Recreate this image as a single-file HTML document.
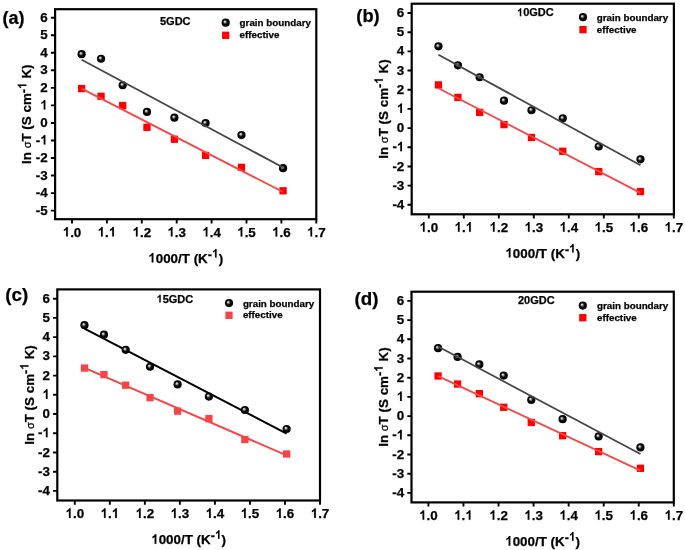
<!DOCTYPE html>
<html><head><meta charset="utf-8"><style>
html,body{margin:0;padding:0;background:#fff;}
svg{display:block;}
#w{width:685px;height:550px;will-change:transform;}
text{font-family:"Liberation Sans", sans-serif;font-weight:bold;fill:#000;stroke:#000;stroke-width:0.25px;}
.tk{font-size:13.4px;}
.ax{font-size:13.4px;}
.sup{font-size:12px;}
.sig{font-weight:normal;font-size:11px;}
.pl{font-size:18px;}
.tt{font-size:11px;}
.lg{font-size:9.8px;}
.o1{fill-opacity:0;stroke-opacity:0;}
.hy{font-size:12.5px;}
</style></head><body><div id="w">
<svg width="685" height="550" viewBox="0 0 685 550">
<defs>
<radialGradient id="sph" cx="0.5" cy="0.5" r="0.5" fx="0.37" fy="0.36">
<stop offset="0" stop-color="#e6e6e6"/>
<stop offset="0.14" stop-color="#d2d2d2"/>
<stop offset="0.34" stop-color="#5a5a5a"/>
<stop offset="0.52" stop-color="#0c0c0c"/>
<stop offset="1" stop-color="#000"/>
</radialGradient>
</defs>
<rect width="685" height="550" fill="#fff"/>
<rect x="55.10" y="9.20" width="261.20" height="210.00" fill="none" stroke="#000" stroke-width="2.2"/>
<path d="M50.90 17.70H55.10 M50.90 35.24H55.10 M50.90 52.78H55.10 M50.90 70.32H55.10 M50.90 87.86H55.10 M50.90 105.40H55.10 M50.90 122.94H55.10 M50.90 140.48H55.10 M50.90 158.02H55.10 M50.90 175.56H55.10 M50.90 193.10H55.10 M50.90 210.64H55.10 M72.00 219.20V223.40 M106.90 219.20V223.40 M141.80 219.20V223.40 M176.70 219.20V223.40 M211.60 219.20V223.40 M246.50 219.20V223.40 M281.40 219.20V223.40 M316.30 219.20V223.40" stroke="#000" stroke-width="1.9" fill="none"/>
<text x="47.70" y="21.80" class="tk" text-anchor="end">6</text>
<text x="47.70" y="39.34" class="tk" text-anchor="end">5</text>
<text x="47.70" y="56.88" class="tk" text-anchor="end">4</text>
<text x="47.70" y="74.42" class="tk" text-anchor="end">3</text>
<text x="47.70" y="91.96" class="tk" text-anchor="end">2</text>
<text x="47.70" y="109.50" class="tk" text-anchor="end"><tspan class="o1">1</tspan></text>
<text x="47.70" y="127.04" class="tk" text-anchor="end">0</text>
<text x="47.70" y="144.58" class="tk" text-anchor="end">-<tspan class="o1">1</tspan></text>
<text x="47.70" y="162.12" class="tk" text-anchor="end">-2</text>
<text x="47.70" y="179.66" class="tk" text-anchor="end">-3</text>
<text x="47.70" y="197.20" class="tk" text-anchor="end">-4</text>
<text x="47.70" y="214.74" class="tk" text-anchor="end">-5</text>
<text x="72.00" y="236.60" class="tk" text-anchor="middle"><tspan class="o1">1</tspan>.0</text>
<text x="106.90" y="236.60" class="tk" text-anchor="middle"><tspan class="o1">1</tspan>.<tspan class="o1">1</tspan></text>
<text x="141.80" y="236.60" class="tk" text-anchor="middle"><tspan class="o1">1</tspan>.2</text>
<text x="176.70" y="236.60" class="tk" text-anchor="middle"><tspan class="o1">1</tspan>.3</text>
<text x="211.60" y="236.60" class="tk" text-anchor="middle"><tspan class="o1">1</tspan>.4</text>
<text x="246.50" y="236.60" class="tk" text-anchor="middle"><tspan class="o1">1</tspan>.5</text>
<text x="281.40" y="236.60" class="tk" text-anchor="middle"><tspan class="o1">1</tspan>.6</text>
<text x="316.30" y="236.60" class="tk" text-anchor="middle"><tspan class="o1">1</tspan>.7</text>
<text x="185.70" y="262.50" class="ax" text-anchor="middle"><tspan class="o1">1</tspan>000/T (K<tspan class="sup"><tspan class="hy" dy="-3.5">-</tspan><tspan dy="-1.5"><tspan class="o1">1</tspan></tspan></tspan><tspan dy="5">)</tspan></text>
<text transform="translate(31.30 114.20) rotate(-90)" class="ax" text-anchor="middle">ln <tspan class="sig">σ</tspan>T (S cm<tspan class="sup"><tspan class="hy" dy="-3.5">-</tspan><tspan dy="-1.5"><tspan class="o1">1</tspan></tspan></tspan><tspan dy="5"> K)</tspan></text>
<text x="2.60" y="24.20" class="pl" style="font-size:18px">(a)</text>
<text x="160.00" y="25.10" class="tt">5GDC</text>
<circle cx="225.70" cy="22.65" r="4.10" fill="url(#sph)"/>
<rect x="222.05" y="31.65" width="7.30" height="7.30" fill="#ff0000"/>
<text x="239.60" y="25.90" class="lg">grain boundary</text>
<text x="239.60" y="38.40" class="lg">effective</text>
<rect x="77.98" y="84.91" width="7.30" height="7.30" fill="#ff0000"/>
<rect x="97.40" y="92.63" width="7.30" height="7.30" fill="#ff0000"/>
<rect x="119.05" y="101.93" width="7.30" height="7.30" fill="#ff0000"/>
<rect x="143.33" y="123.67" width="7.30" height="7.30" fill="#ff0000"/>
<rect x="170.75" y="135.60" width="7.30" height="7.30" fill="#ff0000"/>
<rect x="201.96" y="151.74" width="7.30" height="7.30" fill="#ff0000"/>
<rect x="237.81" y="163.67" width="7.30" height="7.30" fill="#ff0000"/>
<rect x="279.41" y="187.17" width="7.30" height="7.30" fill="#ff0000"/>
<circle cx="81.63" cy="54.18" r="4.10" fill="url(#sph)"/>
<circle cx="101.05" cy="58.74" r="4.10" fill="url(#sph)"/>
<circle cx="122.70" cy="85.23" r="4.10" fill="url(#sph)"/>
<circle cx="146.98" cy="111.89" r="4.10" fill="url(#sph)"/>
<circle cx="174.40" cy="117.68" r="4.10" fill="url(#sph)"/>
<circle cx="205.61" cy="123.12" r="4.10" fill="url(#sph)"/>
<circle cx="241.46" cy="135.04" r="4.10" fill="url(#sph)"/>
<circle cx="283.06" cy="168.19" r="4.10" fill="url(#sph)"/>
<line x1="81.63" y1="59.70" x2="283.06" y2="167.43" stroke="#464646" stroke-width="1.8"/>
<line x1="81.63" y1="88.67" x2="283.06" y2="192.02" stroke="#f84646" stroke-width="1.8"/>
<rect x="411.70" y="3.70" width="262.20" height="210.60" fill="none" stroke="#000" stroke-width="2.2"/>
<path d="M407.50 13.00H411.70 M407.50 32.18H411.70 M407.50 51.36H411.70 M407.50 70.54H411.70 M407.50 89.72H411.70 M407.50 108.90H411.70 M407.50 128.08H411.70 M407.50 147.26H411.70 M407.50 166.44H411.70 M407.50 185.62H411.70 M407.50 204.80H411.70 M428.80 214.30V218.50 M463.80 214.30V218.50 M498.80 214.30V218.50 M533.80 214.30V218.50 M568.80 214.30V218.50 M603.80 214.30V218.50 M638.80 214.30V218.50 M673.80 214.30V218.50" stroke="#000" stroke-width="1.9" fill="none"/>
<text x="404.30" y="17.10" class="tk" text-anchor="end">6</text>
<text x="404.30" y="36.28" class="tk" text-anchor="end">5</text>
<text x="404.30" y="55.46" class="tk" text-anchor="end">4</text>
<text x="404.30" y="74.64" class="tk" text-anchor="end">3</text>
<text x="404.30" y="93.82" class="tk" text-anchor="end">2</text>
<text x="404.30" y="113.00" class="tk" text-anchor="end"><tspan class="o1">1</tspan></text>
<text x="404.30" y="132.18" class="tk" text-anchor="end">0</text>
<text x="404.30" y="151.36" class="tk" text-anchor="end">-<tspan class="o1">1</tspan></text>
<text x="404.30" y="170.54" class="tk" text-anchor="end">-2</text>
<text x="404.30" y="189.72" class="tk" text-anchor="end">-3</text>
<text x="404.30" y="208.90" class="tk" text-anchor="end">-4</text>
<text x="428.80" y="231.70" class="tk" text-anchor="middle"><tspan class="o1">1</tspan>.0</text>
<text x="463.80" y="231.70" class="tk" text-anchor="middle"><tspan class="o1">1</tspan>.<tspan class="o1">1</tspan></text>
<text x="498.80" y="231.70" class="tk" text-anchor="middle"><tspan class="o1">1</tspan>.2</text>
<text x="533.80" y="231.70" class="tk" text-anchor="middle"><tspan class="o1">1</tspan>.3</text>
<text x="568.80" y="231.70" class="tk" text-anchor="middle"><tspan class="o1">1</tspan>.4</text>
<text x="603.80" y="231.70" class="tk" text-anchor="middle"><tspan class="o1">1</tspan>.5</text>
<text x="638.80" y="231.70" class="tk" text-anchor="middle"><tspan class="o1">1</tspan>.6</text>
<text x="673.80" y="231.70" class="tk" text-anchor="middle"><tspan class="o1">1</tspan>.7</text>
<text x="542.80" y="257.60" class="ax" text-anchor="middle"><tspan class="o1">1</tspan>000/T (K<tspan class="sup"><tspan class="hy" dy="-3.5">-</tspan><tspan dy="-1.5"><tspan class="o1">1</tspan></tspan></tspan><tspan dy="5">)</tspan></text>
<text transform="translate(387.90 109.00) rotate(-90)" class="ax" text-anchor="middle">ln <tspan class="sig">σ</tspan>T (S cm<tspan class="sup"><tspan class="hy" dy="-3.5">-</tspan><tspan dy="-1.5"><tspan class="o1">1</tspan></tspan></tspan><tspan dy="5"> K)</tspan></text>
<text x="356.30" y="21.80" class="pl" style="font-size:18.3px">(b)</text>
<text x="517.00" y="16.20" class="tt"><tspan class="o1">1</tspan>0GDC</text>
<circle cx="583.00" cy="17.15" r="4.10" fill="url(#sph)"/>
<rect x="579.35" y="26.00" width="7.30" height="7.30" fill="#ff0000"/>
<text x="596.80" y="20.50" class="lg">grain boundary</text>
<text x="596.80" y="33.00" class="lg">effective</text>
<rect x="434.81" y="81.27" width="7.30" height="7.30" fill="#ff0000"/>
<rect x="454.29" y="93.74" width="7.30" height="7.30" fill="#ff0000"/>
<rect x="476.00" y="108.70" width="7.30" height="7.30" fill="#ff0000"/>
<rect x="500.35" y="120.98" width="7.30" height="7.30" fill="#ff0000"/>
<rect x="527.84" y="133.83" width="7.30" height="7.30" fill="#ff0000"/>
<rect x="559.14" y="147.64" width="7.30" height="7.30" fill="#ff0000"/>
<rect x="595.09" y="167.97" width="7.30" height="7.30" fill="#ff0000"/>
<rect x="636.81" y="187.92" width="7.30" height="7.30" fill="#ff0000"/>
<circle cx="438.46" cy="46.37" r="4.10" fill="url(#sph)"/>
<circle cx="457.94" cy="65.36" r="4.10" fill="url(#sph)"/>
<circle cx="479.65" cy="77.25" r="4.10" fill="url(#sph)"/>
<circle cx="504.00" cy="100.65" r="4.10" fill="url(#sph)"/>
<circle cx="531.49" cy="110.24" r="4.10" fill="url(#sph)"/>
<circle cx="562.79" cy="118.30" r="4.10" fill="url(#sph)"/>
<circle cx="598.74" cy="146.49" r="4.10" fill="url(#sph)"/>
<circle cx="640.46" cy="159.34" r="4.10" fill="url(#sph)"/>
<line x1="438.46" y1="54.74" x2="640.46" y2="165.23" stroke="#464646" stroke-width="1.8"/>
<line x1="438.46" y1="88.19" x2="640.46" y2="192.85" stroke="#f84646" stroke-width="1.8"/>
<rect x="57.30" y="289.40" width="262.70" height="211.10" fill="none" stroke="#000" stroke-width="2.2"/>
<path d="M53.10 298.70H57.30 M53.10 317.92H57.30 M53.10 337.14H57.30 M53.10 356.36H57.30 M53.10 375.58H57.30 M53.10 394.80H57.30 M53.10 414.02H57.30 M53.10 433.24H57.30 M53.10 452.46H57.30 M53.10 471.68H57.30 M53.10 490.90H57.30 M74.80 500.50V504.70 M109.83 500.50V504.70 M144.86 500.50V504.70 M179.89 500.50V504.70 M214.92 500.50V504.70 M249.95 500.50V504.70 M284.98 500.50V504.70 M320.01 500.50V504.70" stroke="#000" stroke-width="1.9" fill="none"/>
<text x="49.90" y="302.80" class="tk" text-anchor="end">6</text>
<text x="49.90" y="322.02" class="tk" text-anchor="end">5</text>
<text x="49.90" y="341.24" class="tk" text-anchor="end">4</text>
<text x="49.90" y="360.46" class="tk" text-anchor="end">3</text>
<text x="49.90" y="379.68" class="tk" text-anchor="end">2</text>
<text x="49.90" y="398.90" class="tk" text-anchor="end"><tspan class="o1">1</tspan></text>
<text x="49.90" y="418.12" class="tk" text-anchor="end">0</text>
<text x="49.90" y="437.34" class="tk" text-anchor="end">-<tspan class="o1">1</tspan></text>
<text x="49.90" y="456.56" class="tk" text-anchor="end">-2</text>
<text x="49.90" y="475.78" class="tk" text-anchor="end">-3</text>
<text x="49.90" y="495.00" class="tk" text-anchor="end">-4</text>
<text x="74.80" y="517.90" class="tk" text-anchor="middle"><tspan class="o1">1</tspan>.0</text>
<text x="109.83" y="517.90" class="tk" text-anchor="middle"><tspan class="o1">1</tspan>.<tspan class="o1">1</tspan></text>
<text x="144.86" y="517.90" class="tk" text-anchor="middle"><tspan class="o1">1</tspan>.2</text>
<text x="179.89" y="517.90" class="tk" text-anchor="middle"><tspan class="o1">1</tspan>.3</text>
<text x="214.92" y="517.90" class="tk" text-anchor="middle"><tspan class="o1">1</tspan>.4</text>
<text x="249.95" y="517.90" class="tk" text-anchor="middle"><tspan class="o1">1</tspan>.5</text>
<text x="284.98" y="517.90" class="tk" text-anchor="middle"><tspan class="o1">1</tspan>.6</text>
<text x="320.01" y="517.90" class="tk" text-anchor="middle"><tspan class="o1">1</tspan>.7</text>
<text x="188.65" y="543.80" class="ax" text-anchor="middle"><tspan class="o1">1</tspan>000/T (K<tspan class="sup"><tspan class="hy" dy="-3.5">-</tspan><tspan dy="-1.5"><tspan class="o1">1</tspan></tspan></tspan><tspan dy="5">)</tspan></text>
<text transform="translate(33.50 394.95) rotate(-90)" class="ax" text-anchor="middle">ln <tspan class="sig">σ</tspan>T (S cm<tspan class="sup"><tspan class="hy" dy="-3.5">-</tspan><tspan dy="-1.5"><tspan class="o1">1</tspan></tspan></tspan><tspan dy="5"> K)</tspan></text>
<text x="5.30" y="301.40" class="pl" style="font-size:18.8px">(c)</text>
<text x="156.50" y="302.50" class="tt"><tspan class="o1">1</tspan>5GDC</text>
<circle cx="229.00" cy="303.10" r="4.10" fill="url(#sph)"/>
<rect x="225.35" y="311.65" width="7.30" height="7.30" fill="#f84444"/>
<text x="242.90" y="306.50" class="lg">grain boundary</text>
<text x="242.90" y="318.40" class="lg">effective</text>
<line x1="84.47" y1="328.71" x2="286.64" y2="433.65" stroke="#000000" stroke-width="2.0"/>
<line x1="84.47" y1="367.90" x2="286.64" y2="455.40" stroke="#f84444" stroke-width="2.0"/>
<rect x="80.82" y="364.43" width="7.30" height="7.30" fill="#f84444"/>
<rect x="100.31" y="370.97" width="7.30" height="7.30" fill="#f84444"/>
<rect x="122.04" y="381.54" width="7.30" height="7.30" fill="#f84444"/>
<rect x="146.41" y="394.03" width="7.30" height="7.30" fill="#f84444"/>
<rect x="173.93" y="407.49" width="7.30" height="7.30" fill="#f84444"/>
<rect x="205.26" y="414.98" width="7.30" height="7.30" fill="#f84444"/>
<rect x="241.24" y="435.93" width="7.30" height="7.30" fill="#f84444"/>
<rect x="282.99" y="450.35" width="7.30" height="7.30" fill="#f84444"/>
<circle cx="84.47" cy="325.22" r="4.10" fill="url(#sph)"/>
<circle cx="103.96" cy="334.64" r="4.10" fill="url(#sph)"/>
<circle cx="125.69" cy="349.83" r="4.10" fill="url(#sph)"/>
<circle cx="150.06" cy="366.74" r="4.10" fill="url(#sph)"/>
<circle cx="177.58" cy="384.42" r="4.10" fill="url(#sph)"/>
<circle cx="208.91" cy="396.53" r="4.10" fill="url(#sph)"/>
<circle cx="244.89" cy="409.98" r="4.10" fill="url(#sph)"/>
<circle cx="286.64" cy="429.01" r="4.10" fill="url(#sph)"/>
<rect x="411.50" y="291.70" width="262.30" height="210.70" fill="none" stroke="#000" stroke-width="2.2"/>
<path d="M407.30 300.90H411.50 M407.30 320.10H411.50 M407.30 339.30H411.50 M407.30 358.50H411.50 M407.30 377.70H411.50 M407.30 396.90H411.50 M407.30 416.10H411.50 M407.30 435.30H411.50 M407.30 454.50H411.50 M407.30 473.70H411.50 M407.30 492.90H411.50 M428.40 502.40V506.60 M463.46 502.40V506.60 M498.52 502.40V506.60 M533.58 502.40V506.60 M568.64 502.40V506.60 M603.70 502.40V506.60 M638.76 502.40V506.60 M673.82 502.40V506.60" stroke="#000" stroke-width="1.9" fill="none"/>
<text x="404.10" y="305.00" class="tk" text-anchor="end">6</text>
<text x="404.10" y="324.20" class="tk" text-anchor="end">5</text>
<text x="404.10" y="343.40" class="tk" text-anchor="end">4</text>
<text x="404.10" y="362.60" class="tk" text-anchor="end">3</text>
<text x="404.10" y="381.80" class="tk" text-anchor="end">2</text>
<text x="404.10" y="401.00" class="tk" text-anchor="end"><tspan class="o1">1</tspan></text>
<text x="404.10" y="420.20" class="tk" text-anchor="end">0</text>
<text x="404.10" y="439.40" class="tk" text-anchor="end">-<tspan class="o1">1</tspan></text>
<text x="404.10" y="458.60" class="tk" text-anchor="end">-2</text>
<text x="404.10" y="477.80" class="tk" text-anchor="end">-3</text>
<text x="404.10" y="497.00" class="tk" text-anchor="end">-4</text>
<text x="428.40" y="519.80" class="tk" text-anchor="middle"><tspan class="o1">1</tspan>.0</text>
<text x="463.46" y="519.80" class="tk" text-anchor="middle"><tspan class="o1">1</tspan>.<tspan class="o1">1</tspan></text>
<text x="498.52" y="519.80" class="tk" text-anchor="middle"><tspan class="o1">1</tspan>.2</text>
<text x="533.58" y="519.80" class="tk" text-anchor="middle"><tspan class="o1">1</tspan>.3</text>
<text x="568.64" y="519.80" class="tk" text-anchor="middle"><tspan class="o1">1</tspan>.4</text>
<text x="603.70" y="519.80" class="tk" text-anchor="middle"><tspan class="o1">1</tspan>.5</text>
<text x="638.76" y="519.80" class="tk" text-anchor="middle"><tspan class="o1">1</tspan>.6</text>
<text x="673.82" y="519.80" class="tk" text-anchor="middle"><tspan class="o1">1</tspan>.7</text>
<text x="542.65" y="545.70" class="ax" text-anchor="middle"><tspan class="o1">1</tspan>000/T (K<tspan class="sup"><tspan class="hy" dy="-3.5">-</tspan><tspan dy="-1.5"><tspan class="o1">1</tspan></tspan></tspan><tspan dy="5">)</tspan></text>
<text transform="translate(387.70 397.05) rotate(-90)" class="ax" text-anchor="middle">ln <tspan class="sig">σ</tspan>T (S cm<tspan class="sup"><tspan class="hy" dy="-3.5">-</tspan><tspan dy="-1.5"><tspan class="o1">1</tspan></tspan></tspan><tspan dy="5"> K)</tspan></text>
<text x="354.60" y="304.90" class="pl" style="font-size:18.8px">(d)</text>
<text x="517.90" y="304.20" class="tt">20GDC</text>
<circle cx="582.80" cy="305.60" r="4.10" fill="url(#sph)"/>
<rect x="579.15" y="314.05" width="7.30" height="7.30" fill="#ff0000"/>
<text x="597.00" y="309.00" class="lg">grain boundary</text>
<text x="597.00" y="320.80" class="lg">effective</text>
<rect x="434.42" y="372.32" width="7.30" height="7.30" fill="#ff0000"/>
<rect x="453.94" y="380.39" width="7.30" height="7.30" fill="#ff0000"/>
<rect x="475.68" y="389.99" width="7.30" height="7.30" fill="#ff0000"/>
<rect x="500.07" y="403.62" width="7.30" height="7.30" fill="#ff0000"/>
<rect x="527.62" y="418.79" width="7.30" height="7.30" fill="#ff0000"/>
<rect x="558.97" y="432.03" width="7.30" height="7.30" fill="#ff0000"/>
<rect x="594.98" y="447.97" width="7.30" height="7.30" fill="#ff0000"/>
<rect x="636.78" y="464.67" width="7.30" height="7.30" fill="#ff0000"/>
<circle cx="438.07" cy="348.13" r="4.10" fill="url(#sph)"/>
<circle cx="457.59" cy="356.96" r="4.10" fill="url(#sph)"/>
<circle cx="479.33" cy="364.45" r="4.10" fill="url(#sph)"/>
<circle cx="503.72" cy="375.59" r="4.10" fill="url(#sph)"/>
<circle cx="531.27" cy="399.97" r="4.10" fill="url(#sph)"/>
<circle cx="562.62" cy="419.17" r="4.10" fill="url(#sph)"/>
<circle cx="598.63" cy="436.45" r="4.10" fill="url(#sph)"/>
<circle cx="640.43" cy="447.40" r="4.10" fill="url(#sph)"/>
<line x1="438.07" y1="346.55" x2="640.43" y2="454.08" stroke="#464646" stroke-width="1.8"/>
<line x1="438.07" y1="376.08" x2="640.43" y2="470.62" stroke="#f84646" stroke-width="1.8"/>
<g fill="#000" stroke="#000"><path transform="translate(40.25 109.50) scale(0.00654 -0.00654)" stroke-width="18.3" d="M785 0L525 0L525 1053C425 959 310 890 175 845L175 1094C245 1117 323 1162 405 1228C487 1294 545 1371 576 1466L785 1466Z"/><path transform="translate(40.25 144.58) scale(0.00654 -0.00654)" stroke-width="18.3" d="M785 0L525 0L525 1053C425 959 310 890 175 845L175 1094C245 1117 323 1162 405 1228C487 1294 545 1371 576 1466L785 1466Z"/><path transform="translate(62.69 236.60) scale(0.00654 -0.00654)" stroke-width="18.3" d="M785 0L525 0L525 1053C425 959 310 890 175 845L175 1094C245 1117 323 1162 405 1228C487 1294 545 1371 576 1466L785 1466Z"/><path transform="translate(97.58 236.60) scale(0.00654 -0.00654)" stroke-width="18.3" d="M785 0L525 0L525 1053C425 959 310 890 175 845L175 1094C245 1117 323 1162 405 1228C487 1294 545 1371 576 1466L785 1466Z"/><path transform="translate(108.77 236.60) scale(0.00654 -0.00654)" stroke-width="18.3" d="M785 0L525 0L525 1053C425 959 310 890 175 845L175 1094C245 1117 323 1162 405 1228C487 1294 545 1371 576 1466L785 1466Z"/><path transform="translate(132.49 236.60) scale(0.00654 -0.00654)" stroke-width="18.3" d="M785 0L525 0L525 1053C425 959 310 890 175 845L175 1094C245 1117 323 1162 405 1228C487 1294 545 1371 576 1466L785 1466Z"/><path transform="translate(167.39 236.60) scale(0.00654 -0.00654)" stroke-width="18.3" d="M785 0L525 0L525 1053C425 959 310 890 175 845L175 1094C245 1117 323 1162 405 1228C487 1294 545 1371 576 1466L785 1466Z"/><path transform="translate(202.29 236.60) scale(0.00654 -0.00654)" stroke-width="18.3" d="M785 0L525 0L525 1053C425 959 310 890 175 845L175 1094C245 1117 323 1162 405 1228C487 1294 545 1371 576 1466L785 1466Z"/><path transform="translate(237.19 236.60) scale(0.00654 -0.00654)" stroke-width="18.3" d="M785 0L525 0L525 1053C425 959 310 890 175 845L175 1094C245 1117 323 1162 405 1228C487 1294 545 1371 576 1466L785 1466Z"/><path transform="translate(272.09 236.60) scale(0.00654 -0.00654)" stroke-width="18.3" d="M785 0L525 0L525 1053C425 959 310 890 175 845L175 1094C245 1117 323 1162 405 1228C487 1294 545 1371 576 1466L785 1466Z"/><path transform="translate(306.99 236.60) scale(0.00654 -0.00654)" stroke-width="18.3" d="M785 0L525 0L525 1053C425 959 310 890 175 845L175 1094C245 1117 323 1162 405 1228C487 1294 545 1371 576 1466L785 1466Z"/><path transform="translate(148.26 262.50) scale(0.00654 -0.00654)" stroke-width="18.3" d="M785 0L525 0L525 1053C425 959 310 890 175 845L175 1094C245 1117 323 1162 405 1228C487 1294 545 1371 576 1466L785 1466Z"/><path transform="translate(211.98 257.50) scale(0.00586 -0.00586)" stroke-width="20.5" d="M785 0L525 0L525 1053C425 959 310 890 175 845L175 1094C245 1117 323 1162 405 1228C487 1294 545 1371 576 1466L785 1466Z"/><path transform="translate(31.30 114.20) rotate(-90) translate(25.21 -5.00) scale(0.00586 -0.00586)" stroke-width="20.5" d="M785 0L525 0L525 1053C425 959 310 890 175 845L175 1094C245 1117 323 1162 405 1228C487 1294 545 1371 576 1466L785 1466Z"/><path transform="translate(396.85 113.00) scale(0.00654 -0.00654)" stroke-width="18.3" d="M785 0L525 0L525 1053C425 959 310 890 175 845L175 1094C245 1117 323 1162 405 1228C487 1294 545 1371 576 1466L785 1466Z"/><path transform="translate(396.85 151.36) scale(0.00654 -0.00654)" stroke-width="18.3" d="M785 0L525 0L525 1053C425 959 310 890 175 845L175 1094C245 1117 323 1162 405 1228C487 1294 545 1371 576 1466L785 1466Z"/><path transform="translate(419.49 231.70) scale(0.00654 -0.00654)" stroke-width="18.3" d="M785 0L525 0L525 1053C425 959 310 890 175 845L175 1094C245 1117 323 1162 405 1228C487 1294 545 1371 576 1466L785 1466Z"/><path transform="translate(454.48 231.70) scale(0.00654 -0.00654)" stroke-width="18.3" d="M785 0L525 0L525 1053C425 959 310 890 175 845L175 1094C245 1117 323 1162 405 1228C487 1294 545 1371 576 1466L785 1466Z"/><path transform="translate(465.67 231.70) scale(0.00654 -0.00654)" stroke-width="18.3" d="M785 0L525 0L525 1053C425 959 310 890 175 845L175 1094C245 1117 323 1162 405 1228C487 1294 545 1371 576 1466L785 1466Z"/><path transform="translate(489.49 231.70) scale(0.00654 -0.00654)" stroke-width="18.3" d="M785 0L525 0L525 1053C425 959 310 890 175 845L175 1094C245 1117 323 1162 405 1228C487 1294 545 1371 576 1466L785 1466Z"/><path transform="translate(524.49 231.70) scale(0.00654 -0.00654)" stroke-width="18.3" d="M785 0L525 0L525 1053C425 959 310 890 175 845L175 1094C245 1117 323 1162 405 1228C487 1294 545 1371 576 1466L785 1466Z"/><path transform="translate(559.49 231.70) scale(0.00654 -0.00654)" stroke-width="18.3" d="M785 0L525 0L525 1053C425 959 310 890 175 845L175 1094C245 1117 323 1162 405 1228C487 1294 545 1371 576 1466L785 1466Z"/><path transform="translate(594.49 231.70) scale(0.00654 -0.00654)" stroke-width="18.3" d="M785 0L525 0L525 1053C425 959 310 890 175 845L175 1094C245 1117 323 1162 405 1228C487 1294 545 1371 576 1466L785 1466Z"/><path transform="translate(629.49 231.70) scale(0.00654 -0.00654)" stroke-width="18.3" d="M785 0L525 0L525 1053C425 959 310 890 175 845L175 1094C245 1117 323 1162 405 1228C487 1294 545 1371 576 1466L785 1466Z"/><path transform="translate(664.49 231.70) scale(0.00654 -0.00654)" stroke-width="18.3" d="M785 0L525 0L525 1053C425 959 310 890 175 845L175 1094C245 1117 323 1162 405 1228C487 1294 545 1371 576 1466L785 1466Z"/><path transform="translate(505.36 257.60) scale(0.00654 -0.00654)" stroke-width="18.3" d="M785 0L525 0L525 1053C425 959 310 890 175 845L175 1094C245 1117 323 1162 405 1228C487 1294 545 1371 576 1466L785 1466Z"/><path transform="translate(569.08 252.60) scale(0.00586 -0.00586)" stroke-width="20.5" d="M785 0L525 0L525 1053C425 959 310 890 175 845L175 1094C245 1117 323 1162 405 1228C487 1294 545 1371 576 1466L785 1466Z"/><path transform="translate(387.90 109.00) rotate(-90) translate(25.21 -5.00) scale(0.00586 -0.00586)" stroke-width="20.5" d="M785 0L525 0L525 1053C425 959 310 890 175 845L175 1094C245 1117 323 1162 405 1228C487 1294 545 1371 576 1466L785 1466Z"/><path transform="translate(517.00 16.20) scale(0.00537 -0.00537)" stroke-width="22.3" d="M785 0L525 0L525 1053C425 959 310 890 175 845L175 1094C245 1117 323 1162 405 1228C487 1294 545 1371 576 1466L785 1466Z"/><path transform="translate(42.45 398.90) scale(0.00654 -0.00654)" stroke-width="18.3" d="M785 0L525 0L525 1053C425 959 310 890 175 845L175 1094C245 1117 323 1162 405 1228C487 1294 545 1371 576 1466L785 1466Z"/><path transform="translate(42.45 437.34) scale(0.00654 -0.00654)" stroke-width="18.3" d="M785 0L525 0L525 1053C425 959 310 890 175 845L175 1094C245 1117 323 1162 405 1228C487 1294 545 1371 576 1466L785 1466Z"/><path transform="translate(65.49 517.90) scale(0.00654 -0.00654)" stroke-width="18.3" d="M785 0L525 0L525 1053C425 959 310 890 175 845L175 1094C245 1117 323 1162 405 1228C487 1294 545 1371 576 1466L785 1466Z"/><path transform="translate(100.51 517.90) scale(0.00654 -0.00654)" stroke-width="18.3" d="M785 0L525 0L525 1053C425 959 310 890 175 845L175 1094C245 1117 323 1162 405 1228C487 1294 545 1371 576 1466L785 1466Z"/><path transform="translate(111.70 517.90) scale(0.00654 -0.00654)" stroke-width="18.3" d="M785 0L525 0L525 1053C425 959 310 890 175 845L175 1094C245 1117 323 1162 405 1228C487 1294 545 1371 576 1466L785 1466Z"/><path transform="translate(135.55 517.90) scale(0.00654 -0.00654)" stroke-width="18.3" d="M785 0L525 0L525 1053C425 959 310 890 175 845L175 1094C245 1117 323 1162 405 1228C487 1294 545 1371 576 1466L785 1466Z"/><path transform="translate(170.58 517.90) scale(0.00654 -0.00654)" stroke-width="18.3" d="M785 0L525 0L525 1053C425 959 310 890 175 845L175 1094C245 1117 323 1162 405 1228C487 1294 545 1371 576 1466L785 1466Z"/><path transform="translate(205.61 517.90) scale(0.00654 -0.00654)" stroke-width="18.3" d="M785 0L525 0L525 1053C425 959 310 890 175 845L175 1094C245 1117 323 1162 405 1228C487 1294 545 1371 576 1466L785 1466Z"/><path transform="translate(240.64 517.90) scale(0.00654 -0.00654)" stroke-width="18.3" d="M785 0L525 0L525 1053C425 959 310 890 175 845L175 1094C245 1117 323 1162 405 1228C487 1294 545 1371 576 1466L785 1466Z"/><path transform="translate(275.67 517.90) scale(0.00654 -0.00654)" stroke-width="18.3" d="M785 0L525 0L525 1053C425 959 310 890 175 845L175 1094C245 1117 323 1162 405 1228C487 1294 545 1371 576 1466L785 1466Z"/><path transform="translate(310.70 517.90) scale(0.00654 -0.00654)" stroke-width="18.3" d="M785 0L525 0L525 1053C425 959 310 890 175 845L175 1094C245 1117 323 1162 405 1228C487 1294 545 1371 576 1466L785 1466Z"/><path transform="translate(151.21 543.80) scale(0.00654 -0.00654)" stroke-width="18.3" d="M785 0L525 0L525 1053C425 959 310 890 175 845L175 1094C245 1117 323 1162 405 1228C487 1294 545 1371 576 1466L785 1466Z"/><path transform="translate(214.93 538.80) scale(0.00586 -0.00586)" stroke-width="20.5" d="M785 0L525 0L525 1053C425 959 310 890 175 845L175 1094C245 1117 323 1162 405 1228C487 1294 545 1371 576 1466L785 1466Z"/><path transform="translate(33.50 394.95) rotate(-90) translate(25.21 -5.00) scale(0.00586 -0.00586)" stroke-width="20.5" d="M785 0L525 0L525 1053C425 959 310 890 175 845L175 1094C245 1117 323 1162 405 1228C487 1294 545 1371 576 1466L785 1466Z"/><path transform="translate(156.50 302.50) scale(0.00537 -0.00537)" stroke-width="22.3" d="M785 0L525 0L525 1053C425 959 310 890 175 845L175 1094C245 1117 323 1162 405 1228C487 1294 545 1371 576 1466L785 1466Z"/><path transform="translate(396.65 401.00) scale(0.00654 -0.00654)" stroke-width="18.3" d="M785 0L525 0L525 1053C425 959 310 890 175 845L175 1094C245 1117 323 1162 405 1228C487 1294 545 1371 576 1466L785 1466Z"/><path transform="translate(396.65 439.40) scale(0.00654 -0.00654)" stroke-width="18.3" d="M785 0L525 0L525 1053C425 959 310 890 175 845L175 1094C245 1117 323 1162 405 1228C487 1294 545 1371 576 1466L785 1466Z"/><path transform="translate(419.09 519.80) scale(0.00654 -0.00654)" stroke-width="18.3" d="M785 0L525 0L525 1053C425 959 310 890 175 845L175 1094C245 1117 323 1162 405 1228C487 1294 545 1371 576 1466L785 1466Z"/><path transform="translate(454.14 519.80) scale(0.00654 -0.00654)" stroke-width="18.3" d="M785 0L525 0L525 1053C425 959 310 890 175 845L175 1094C245 1117 323 1162 405 1228C487 1294 545 1371 576 1466L785 1466Z"/><path transform="translate(465.33 519.80) scale(0.00654 -0.00654)" stroke-width="18.3" d="M785 0L525 0L525 1053C425 959 310 890 175 845L175 1094C245 1117 323 1162 405 1228C487 1294 545 1371 576 1466L785 1466Z"/><path transform="translate(489.21 519.80) scale(0.00654 -0.00654)" stroke-width="18.3" d="M785 0L525 0L525 1053C425 959 310 890 175 845L175 1094C245 1117 323 1162 405 1228C487 1294 545 1371 576 1466L785 1466Z"/><path transform="translate(524.27 519.80) scale(0.00654 -0.00654)" stroke-width="18.3" d="M785 0L525 0L525 1053C425 959 310 890 175 845L175 1094C245 1117 323 1162 405 1228C487 1294 545 1371 576 1466L785 1466Z"/><path transform="translate(559.33 519.80) scale(0.00654 -0.00654)" stroke-width="18.3" d="M785 0L525 0L525 1053C425 959 310 890 175 845L175 1094C245 1117 323 1162 405 1228C487 1294 545 1371 576 1466L785 1466Z"/><path transform="translate(594.39 519.80) scale(0.00654 -0.00654)" stroke-width="18.3" d="M785 0L525 0L525 1053C425 959 310 890 175 845L175 1094C245 1117 323 1162 405 1228C487 1294 545 1371 576 1466L785 1466Z"/><path transform="translate(629.45 519.80) scale(0.00654 -0.00654)" stroke-width="18.3" d="M785 0L525 0L525 1053C425 959 310 890 175 845L175 1094C245 1117 323 1162 405 1228C487 1294 545 1371 576 1466L785 1466Z"/><path transform="translate(664.51 519.80) scale(0.00654 -0.00654)" stroke-width="18.3" d="M785 0L525 0L525 1053C425 959 310 890 175 845L175 1094C245 1117 323 1162 405 1228C487 1294 545 1371 576 1466L785 1466Z"/><path transform="translate(505.21 545.70) scale(0.00654 -0.00654)" stroke-width="18.3" d="M785 0L525 0L525 1053C425 959 310 890 175 845L175 1094C245 1117 323 1162 405 1228C487 1294 545 1371 576 1466L785 1466Z"/><path transform="translate(568.93 540.70) scale(0.00586 -0.00586)" stroke-width="20.5" d="M785 0L525 0L525 1053C425 959 310 890 175 845L175 1094C245 1117 323 1162 405 1228C487 1294 545 1371 576 1466L785 1466Z"/><path transform="translate(387.70 397.05) rotate(-90) translate(25.21 -5.00) scale(0.00586 -0.00586)" stroke-width="20.5" d="M785 0L525 0L525 1053C425 959 310 890 175 845L175 1094C245 1117 323 1162 405 1228C487 1294 545 1371 576 1466L785 1466Z"/></g>
</svg>
</div></body></html>
